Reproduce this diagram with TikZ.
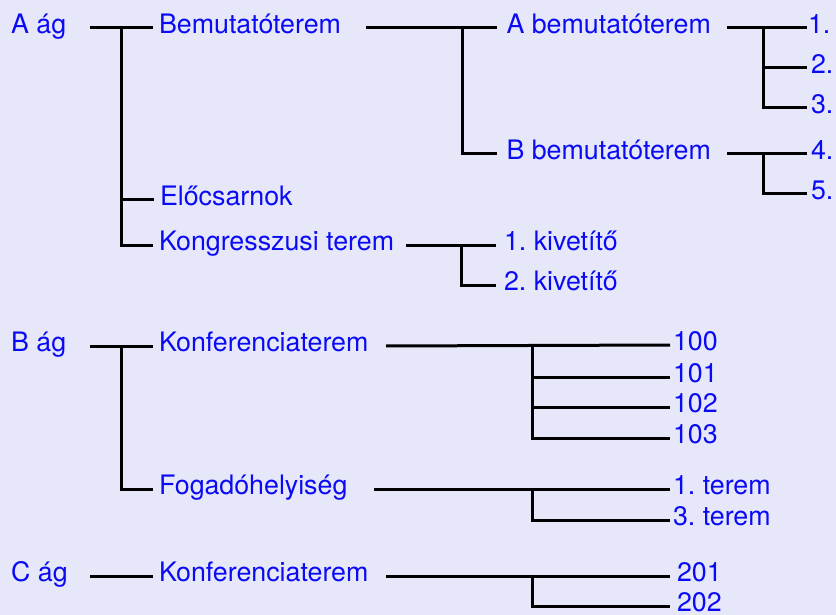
\documentclass[tikz,border=0pt]{standalone}
\usepackage{fontspec}
\setmainfont{TeX Gyre Heros}
\definecolor{bg}{RGB}{230,232,250}
\definecolor{tb}{RGB}{10,10,245}
\frenchspacing
\begin{document}
\begin{tikzpicture}[x=1pt,y=-1pt,
  lbl/.style={anchor=west, inner sep=0pt, text height=20pt, text depth=9pt, text=tb,
              font=\fontsize{26.8}{30}\selectfont},
  ln/.style={line width=3pt, draw=black}]
\fill[bg] (0,0) rectangle (836,615);
\useasboundingbox (0,0) rectangle (836,615);

% level 0
\node[lbl] (Aag) at (11,28) {A ág};
\node[lbl] (Bag) at (11,346) {B ág};
\node[lbl] (Cag) at (11,576) {C ág};

% level 1
\begin{scope}[every node/.append style={outer xsep=6pt}]
\node[lbl] (Bem) at (153,28) {Bemutatóterem};
\node[lbl] (Eloc) at (154,200) {Előcsarnok};
\node[lbl] (Kong) at (153,245) {Kongresszusi terem};
\node[lbl] (KonfB) at (153,346) {Konferenciaterem};
\node[lbl] (Fog) at (153,489) {Fogadóhelyiség};
\node[lbl] (KonfC) at (153,576) {Konferenciaterem};
\end{scope}

% level 2
\node[lbl, outer xsep=9.5pt] (Abem) at (497,28) {A bemutatóterem};
\node[lbl, outer xsep=9.5pt] (Bbem) at (497,154) {B bemutatóterem};
\node[lbl, outer xsep=8pt] (Kiv1) at (496,245) {1. kivetítő};
\node[lbl, outer xsep=8pt] (Kiv2) at (496,285) {2. kivetítő};
\node[lbl, outer xsep=3pt] (r100) at (670,345) {100};
\node[lbl, outer xsep=3pt] (r101) at (670,377) {101};
\node[lbl, outer xsep=3pt] (r102) at (670,407) {102};
\node[lbl, outer xsep=3pt] (r103) at (670,438) {103};
\node[lbl, outer xsep=3pt] (t1) at (670,489) {1. terem};
\node[lbl, outer xsep=3pt] (t3) at (670,520) {3. terem};
\node[lbl, outer xsep=7pt] (r201) at (670,576) {201};
\node[lbl, outer xsep=7pt] (r202) at (670,606) {202};

% level 3
\node[lbl, outer xsep=1pt] (n1) at (807,28) {1.};
\node[lbl, outer xsep=4pt] (n2) at (807,68) {2.};
\node[lbl, outer xsep=4pt] (n3) at (807,108) {3.};
\node[lbl, outer xsep=4pt] (n4) at (807,154) {4.};
\node[lbl, outer xsep=4pt] (n5) at (807,194) {5.};

% connector start / junction points
\coordinate (sA) at (90,28);     \coordinate (jA) at (121,28);
\coordinate (sBem) at (366,28);  \coordinate (jBem) at (462,28);
\coordinate (sKong) at (406,245);\coordinate (jKong) at (461,245);
\coordinate (sAbem) at (727,28); \coordinate (jAbem) at (763,28);
\coordinate (sBbem) at (727,154);\coordinate (jBbem) at (763,154);
\coordinate (sB) at (90,346);    \coordinate (jB) at (121,346);
\coordinate (sKonfB) at (386,346);\coordinate (jKonfB) at (532,346);
\coordinate (sFog) at (374,489); \coordinate (jFog) at (532,489);
\coordinate (sC) at (90,576);
\coordinate (sKonfC) at (386,576);\coordinate (jKonfC) at (532,576);

% A ág
\draw[ln] (sA) -- (Bem.west);
\draw[ln] (jA) |- (Eloc.west);
\draw[ln] (jA) |- (Kong.west);
\draw[ln] (sBem) -- (Abem.west);
\draw[ln] (jBem) |- (Bbem.west);
\draw[ln] (sAbem) -- (n1.west);
\draw[ln] (jAbem) |- (n2.west);
\draw[ln] (jAbem) |- (n3.west);
\draw[ln] (sBbem) -- (n4.west);
\draw[ln] (jBbem) |- (n5.west);
\draw[ln] (sKong) -- (Kiv1.west);
\draw[ln] (jKong) |- (Kiv2.west);

% B ág
\draw[ln] (sB) -- (KonfB.west);
\draw[ln] (jB) |- (Fog.west);
\draw[ln] (sKonfB) -- (r100.west);
\draw[ln] (jKonfB) |- (r101.west);
\draw[ln] (jKonfB) |- (r102.west);
\draw[ln] (jKonfB) |- (r103.west);
\draw[ln] (sFog) -- (t1.west);
\draw[ln] (jFog) |- (t3.west);

% C ág
\draw[ln] (sC) -- (KonfC.west);
\draw[ln] (sKonfC) -- (r201.west);
\draw[ln] (jKonfC) |- (r202.west);
\end{tikzpicture}
\end{document}
